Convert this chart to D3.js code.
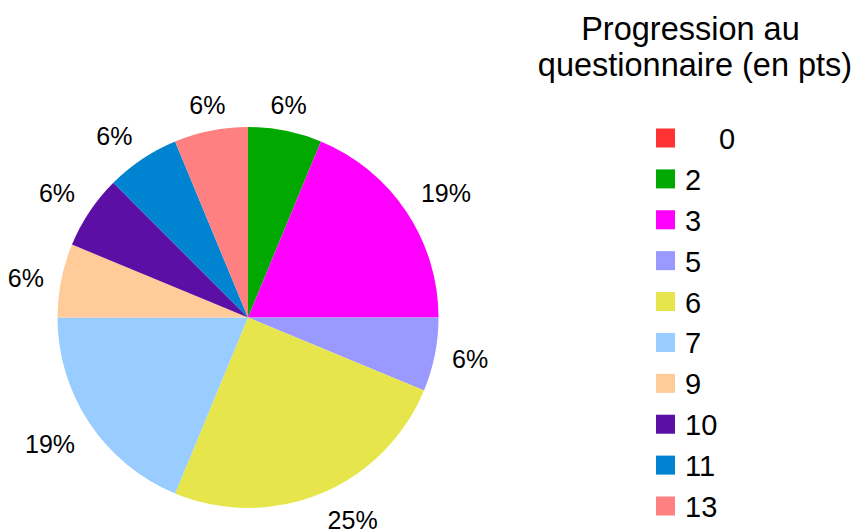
<!DOCTYPE html>
<html>
<head>
<meta charset="utf-8">
<script src="https://cdn.jsdelivr.net/npm/d3@7"></script>
<style>
  html, body { margin: 0; padding: 0; background: #ffffff; }
  svg { display: block; font-family: "Liberation Sans", Arial, sans-serif; }
</style>
</head>
<body>
<svg id="chart" width="858" height="530"></svg>
<script>
// Points scored on the questionnaire and how many respondents got each
const categories = ["0", "2", "3", "5", "6", "7", "9", "10", "11", "13"];
const counts = [0, 1, 3, 1, 4, 3, 1, 1, 1, 1];
const colors = ["#ff3333", "#00a800", "#ff00ff", "#9999ff", "#e6e64c",
                "#99ccff", "#ffcc99", "#5c0fa5", "#0084d1", "#ff8080"];
const titleLines = ["Progression au ", "questionnaire (en pts)"];

const svg = d3.select("#chart");
const cx = 248, cy = 317.5, radius = 190.5;

const total = d3.sum(counts);
const data = categories.map((c, i) => ({ category: c, value: counts[i], color: colors[i] }));

const pie = d3.pie().value(d => d.value).sort(null);
const arc = d3.arc().innerRadius(0).outerRadius(radius);
const arcs = pie(data);

const g = svg.append("g").attr("transform", `translate(${cx},${cy})`);

g.selectAll("path.slice")
  .data(arcs.filter(a => a.data.value > 0))
  .join("path")
  .attr("class", "slice")
  .attr("d", arc)
  .attr("fill", d => d.data.color);

// Percentage labels: anchored just outside the rim on the slice bisector,
// with the text box hanging off that point away from the pie
const fmt = d => Math.round(d.data.value / total * 100) + "%";
const labelFont = 25;
const labelR = radius + 17.5;
g.selectAll("text.pct")
  .data(arcs.filter(a => a.data.value > 0))
  .join("text")
  .attr("class", "pct")
  .attr("font-size", labelFont)
  .attr("fill", "#000")
  .attr("text-anchor", "middle")
  .attr("dominant-baseline", "central")
  .text(fmt)
  .each(function (d) {
    const a = (d.startAngle + d.endAngle) / 2;
    const s = Math.sin(a), c = Math.cos(a);
    const hw = this.getBBox().width / 2, hh = labelFont * 0.38;
    const dx = Math.abs(s) < 0.35 ? 0 : Math.sign(s) * hw;
    const dy = Math.abs(c) < 0.35 ? 0 : -Math.sign(c) * hh;
    d3.select(this)
      .attr("x", s * labelR + dx)
      .attr("y", -c * labelR + dy + 1);
  });

// Legend title
svg.append("g")
  .selectAll("text")
  .data(titleLines)
  .join("text")
  .attr("x", 695)
  .attr("y", (d, i) => 40 + i * 36)
  .attr("text-anchor", "middle")
  .attr("font-size", 32.5)
  .attr("fill", "#000")
  .style("white-space", "pre")
  .text(d => d);

// Legend entries
const legend = svg.append("g");
const rowY = d3.scalePoint().domain(categories).range([138, 506]);
const rows = legend.selectAll("g.row")
  .data(data)
  .join("g")
  .attr("class", "row")
  .attr("transform", d => `translate(656,${rowY(d.category)})`);

rows.append("rect")
  .attr("x", 0)
  .attr("y", -9.5)
  .attr("width", 19)
  .attr("height", 19)
  .attr("fill", d => d.color);

rows.append("text")
  .attr("x", d => d.value === 0 ? 71 : 29)
  .attr("y", 1)
  .attr("dominant-baseline", "central")
  .attr("text-anchor", d => d.value === 0 ? "middle" : "start")
  .attr("font-size", 29)
  .attr("fill", "#000")
  .text(d => d.category);
</script>
</body>
</html>
